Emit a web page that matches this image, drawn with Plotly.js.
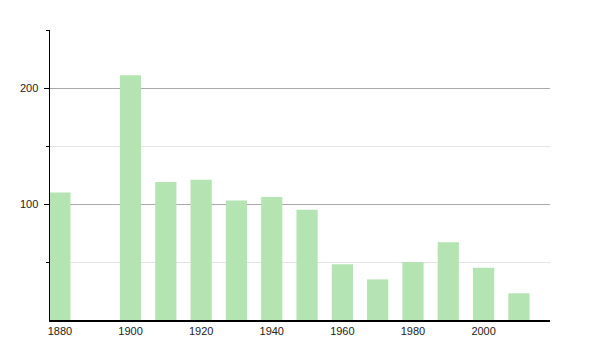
<!DOCTYPE html>
<html>
<head>
<meta charset="utf-8">
<script src="https://cdn.plot.ly/plotly-3.0.1.min.js"></script>
<style>html,body{margin:0;padding:0;background:#fff;}#chart{width:600px;height:350px;}</style>
</head>
<body>
<div id="chart"></div>
<script>
const years = [1880, 1900, 1910, 1920, 1930, 1940, 1950, 1960, 1970, 1980, 1990, 2000, 2010];
const values = [110, 211, 119, 121, 103, 106, 95, 48, 35, 50, 67, 45, 23];
const xTickVals = [1880, 1900, 1920, 1940, 1960, 1980, 2000];
const yMajorTicks = [100, 200];
const yMinorTicks = [50, 150, 250];

const trace = {
  type: 'bar',
  x: years,
  y: values,
  width: 6,
  marker: {color: '#b3e4b1', line: {width: 0}},
  hoverinfo: 'x+y'
};

const layout = {
  width: 600, height: 350,
  margin: {l: 50, r: 50, t: 30, b: 30},
  paper_bgcolor: '#fff', plot_bgcolor: '#fff',
  showlegend: false,
  font: {family: 'Liberation Sans, Arial, sans-serif', size: 11, color: '#222'},
  xaxis: {
    range: [1877.2, 2018.8],
    tickmode: 'array', tickvals: xTickVals,
    ticks: '', showgrid: false, zeroline: false,
    showline: true, linecolor: '#000', linewidth: 1.5,
    tickfont: {size: 11, color: '#222'},
    ticklabelstandoff: 0
  },
  yaxis: {
    range: [0, 250],
    tickmode: 'array', tickvals: yMajorTicks,
    ticks: 'outside', ticklen: 5, tickcolor: '#000', tickwidth: 1,
    showgrid: true, gridcolor: '#aaaaaa', gridwidth: 1,
    zeroline: false,
    showline: true, linecolor: '#000', linewidth: 1.5,
    tickfont: {size: 11, color: '#222'},
    ticklabelstandoff: 3,
    minor: {
      tickmode: 'array', tickvals: yMinorTicks,
      ticks: 'outside', ticklen: 3, tickcolor: '#000',
      showgrid: true, gridcolor: '#e3e3e3', gridwidth: 1
    }
  }
};

Plotly.newPlot('chart', [trace], layout, {displayModeBar: false, staticPlot: true});
</script>
</body>
</html>
